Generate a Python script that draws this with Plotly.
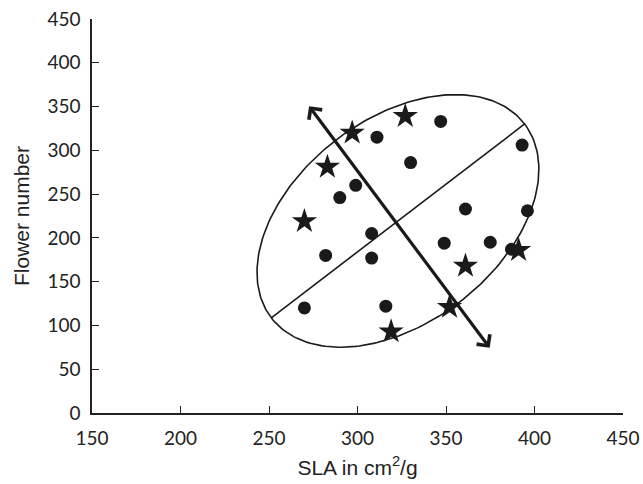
import numpy as np
import plotly.graph_objects as go

# Data
circle_x = [347, 311, 393, 330, 299, 290, 361, 396, 308, 349, 375, 387, 282, 308, 270, 316]
circle_y = [333, 315, 306, 286, 260, 246, 233, 231, 205, 194, 195, 187, 180, 177, 120, 122]
star_x = [297, 327, 283, 270, 319, 361, 352, 391]
star_y = [320, 339, 281, 219, 93, 168, 121, 186]

# Ellipse defined by its major-axis endpoints and minor-axis endpoints (data units)
major_start = (251.3, 108.7)
major_end = (394.4, 330.1)
minor_start = (287.9, 311.9)
minor_end = (357.9, 126.9)

# Double-headed arrow endpoints (data units)
arrow_start = (272.0, 352.2)
arrow_end = (374.7, 74.4)

x_ticks = [150, 200, 250, 300, 350, 400, 450]
y_ticks = [0, 50, 100, 150, 200, 250, 300, 350, 400, 450]

cx = (major_start[0] + major_end[0]) / 2
cy = (major_start[1] + major_end[1]) / 2
ux, uy = major_end[0] - cx, major_end[1] - cy
vx, vy = minor_start[0] - cx, minor_start[1] - cy
t = np.linspace(0, 2 * np.pi, 241)
ex = cx + np.cos(t) * ux + np.sin(t) * vx
ey = cy + np.cos(t) * uy + np.sin(t) * vy

INK = "#1a1a1a"
fig = go.Figure()
fig.add_trace(go.Scatter(x=ex, y=ey, mode="lines", line=dict(color=INK, width=1.6),
                         hoverinfo="skip", showlegend=False))
fig.add_trace(go.Scatter(x=[major_start[0], major_end[0]], y=[major_start[1], major_end[1]],
                         mode="lines", line=dict(color=INK, width=1.6), showlegend=False))
fig.add_trace(go.Scatter(x=circle_x, y=circle_y, mode="markers",
                         marker=dict(symbol="circle", size=13, color=INK), showlegend=False))
fig.add_trace(go.Scatter(x=star_x, y=star_y, mode="markers",
                         marker=dict(symbol="star", size=19, color=INK), showlegend=False))

fig.add_annotation(x=arrow_end[0], y=arrow_end[1], ax=arrow_start[0], ay=arrow_start[1],
                   xref="x", yref="y", axref="x", ayref="y", text="", showarrow=True,
                   arrowhead=4, startarrowhead=4, arrowside="end+start",
                   arrowwidth=3.2, arrowsize=1, startarrowsize=1, arrowcolor=INK)

axis_common = dict(showgrid=False, zeroline=False, showline=True, linecolor="#222222",
                   linewidth=1.5, ticks="inside", ticklen=7, tickwidth=1.3, tickcolor="#222222",
                   automargin=False, ticklabeloverflow="allow",
                   tickfont=dict(family="Lato", size=19, color="#222222"))

fig.update_xaxes(range=[150, 450], tickvals=x_ticks, ticktext=[str(v) for v in x_ticks],
                 ticklabelstandoff=7,
                 title=dict(text="SLA in cm<sup>2</sup>/g", font=dict(family="Liberation Sans", size=21, color="#222222"),
                            standoff=13),
                 **axis_common)
fig.update_yaxes(range=[0, 450], tickvals=y_ticks, ticktext=[str(v) for v in y_ticks],
                 ticklabelstandoff=6,
                 title=dict(text="Flower number", font=dict(family="Liberation Sans", size=21, color="#222222"),
                            standoff=12),
                 **axis_common)

fig.update_layout(width=643, height=484, margin=dict(l=92, r=20, t=19, b=71),
                  plot_bgcolor="white", paper_bgcolor="white", showlegend=False)

fig.write_html("out.html", config={"displayModeBar": False},
               post_script="document.body.style.margin='0';document.body.style.overflow='hidden';")
